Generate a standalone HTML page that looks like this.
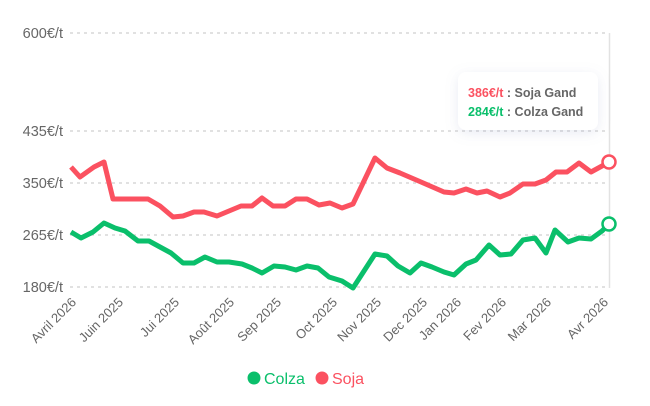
<!DOCTYPE html>
<html><head><meta charset="utf-8"><style>
html,body{margin:0;padding:0;background:#fff;width:650px;height:406px;overflow:hidden}
svg{display:block;font-family:"Liberation Sans",sans-serif}
</style></head><body>
<svg width="650" height="406" viewBox="0 0 650 406">
<defs><filter id="sh" x="-30%" y="-30%" width="160%" height="160%"><feDropShadow dx="0" dy="3" stdDeviation="6" flood-color="#8890c0" flood-opacity="0.18"/></filter></defs>
<g stroke="#cfcfcf" stroke-width="1.3" stroke-dasharray="3,4">
<line x1="70" y1="33" x2="609" y2="33"/>
<line x1="70" y1="131" x2="609" y2="131"/>
<line x1="70" y1="183" x2="609" y2="183"/>
<line x1="70" y1="235" x2="609" y2="235"/>
<line x1="70" y1="287" x2="609" y2="287"/>
</g>
<line x1="609.5" y1="33" x2="609.5" y2="288" stroke="#e2e2e2" stroke-width="1.5"/>
<g fill="#666" font-size="14.5" text-anchor="end">
<text x="63" y="38">600€/t</text>
<text x="63" y="136">435€/t</text>
<text x="63" y="188">350€/t</text>
<text x="63" y="240">265€/t</text>
<text x="63" y="292">180€/t</text>
</g>
<g fill="#666" font-size="13" text-anchor="end">
<text transform="translate(77,303) rotate(-45)">Avril 2026</text>
<text transform="translate(124,303) rotate(-45)">Juin 2025</text>
<text transform="translate(180,303) rotate(-45)">Jui 2025</text>
<text transform="translate(235,303) rotate(-45)">Août 2025</text>
<text transform="translate(282,303) rotate(-45)">Sep 2025</text>
<text transform="translate(338,303) rotate(-45)">Oct 2025</text>
<text transform="translate(382,303) rotate(-45)">Nov 2025</text>
<text transform="translate(428,303) rotate(-45)">Dec 2025</text>
<text transform="translate(462,303) rotate(-45)">Jan 2026</text>
<text transform="translate(507,303) rotate(-45)">Fev 2026</text>
<text transform="translate(552,303) rotate(-45)">Mar 2026</text>
<text transform="translate(609,303) rotate(-45)">Avr 2026</text>
</g>
<polyline fill="none" stroke="#fb5160" stroke-width="5" stroke-linejoin="round" points="71,167 80,177 94,167 104,162 113,199 148,199 160,206 173,217 183,216 194,212 204,212 217,216 229,211 241,206 252,206 262,198 273,206 285,206 296,199 307,199 319,205 330,203 342,208 353,204 375,158 387,168 400,173 421,182 444,192 454,193 466,189 477,193 487,191 500,197 510,193 523,184 535,184 546,180 556,172 567,172 579,163 591,172 602,166 609,162"/>
<polyline fill="none" stroke="#0abf6b" stroke-width="5" stroke-linejoin="round" points="71,232 81,238 93,232 104,223 115,228 125,231 138,241 149,241 160,247 171,253 183,263 194,263 205,257 217,262 229,262 242,264 252,268 262,273 274,266 285,267 296,270 307,266 318,268 329,277 342,281 353,288 375,254 387,256 398,266 410,273 421,263 432,267 444,272 454,275 466,264 476,260 489,245 500,255 511,254 523,240 535,238 546,253 555,230 568,242 579,238 591,239 602,231 609,224"/>
<circle cx="609" cy="162" r="6.5" fill="#fff" stroke="#fb5160" stroke-width="2.5"/>
<circle cx="609" cy="224" r="6.5" fill="#fff" stroke="#0abf6b" stroke-width="2.5"/>
<rect x="458" y="72" width="140" height="58" rx="8" fill="#fff" filter="url(#sh)"/>
<g font-size="12.5" font-weight="bold">
<text x="468" y="97"><tspan fill="#fb5160">386€/t</tspan><tspan fill="#666"> : Soja Gand</tspan></text>
<text x="468" y="116"><tspan fill="#0abf6b">284€/t</tspan><tspan fill="#666"> : Colza Gand</tspan></text>
</g>
<circle cx="254" cy="378" r="6.5" fill="#0abf6b"/>
<text x="264" y="384" font-size="16" fill="#0abf6b">Colza</text>
<circle cx="322" cy="378" r="6.5" fill="#fb5160"/>
<text x="332" y="384" font-size="16" fill="#fb5160">Soja</text>
</svg>
</body></html>
